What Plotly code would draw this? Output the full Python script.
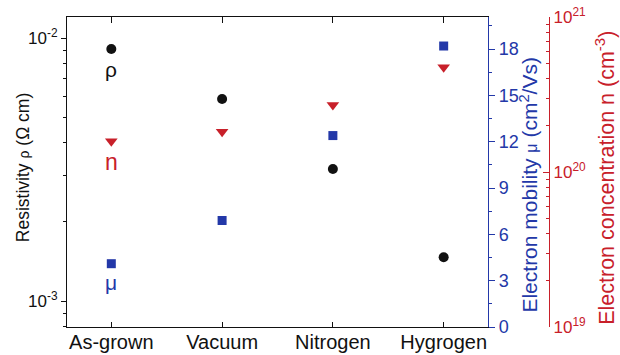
import numpy as np
import plotly.graph_objects as go

categories = ["As-grown", "Vacuum", "Nitrogen", "Hygrogen"]
resistivity = [0.00908, 0.00587, 0.00318, 0.00147]      # Ω cm
mobility = [4.1, 6.9, 12.4, 18.2]                        # cm²/Vs
concentration = [1.58e20, 1.82e20, 2.71e20, 4.74e20]    # cm^-3

BLACK = "#111111"
BLUE = "#2338a8"
RED = "#c8202a"
FONT = "Liberation Sans, Arial, sans-serif"

fig = go.Figure()
fig.add_trace(go.Scatter(x=categories, y=resistivity, mode="markers", yaxis="y",
                         marker=dict(symbol="circle", size=10, color=BLACK), showlegend=False))
fig.add_trace(go.Scatter(x=categories, y=mobility, mode="markers", yaxis="y2",
                         marker=dict(symbol="square", size=9, color=BLUE), showlegend=False))
fig.add_trace(go.Scatter(x=categories, y=concentration, mode="markers", yaxis="y3",
                         marker=dict(symbol="triangle-down", size=11, color=RED), showlegend=False))
# invisible helper trace so the top (mirror) axis is drawn
fig.add_trace(go.Scatter(x=list(range(len(categories))), y=resistivity, mode="markers",
                         xaxis="x2", yaxis="y", marker=dict(opacity=0), hoverinfo="skip",
                         showlegend=False))

xdom_end = 0.8574
fig.update_layout(
    width=620, height=355,
    margin=dict(l=67, r=62, t=17, b=28, autoexpand=False),
    paper_bgcolor="white", plot_bgcolor="white",
    font=dict(family=FONT, size=17, color=BLACK),
    xaxis=dict(domain=[0, xdom_end], type="category", range=[-0.4, 3.4], automargin=False,
               showline=True, linecolor=BLACK, linewidth=1.2, ticks="inside",
               ticklen=5, tickcolor=BLACK, showgrid=False, zeroline=False,
               ticklabelstandoff=-3,
               tickfont=dict(size=20, color=BLACK)),
    xaxis2=dict(domain=[0, xdom_end], overlaying="x", side="top", anchor="y",
                range=[-0.4, 3.4], tickvals=[0, 1, 2, 3], showticklabels=False,
                automargin=False,
                showline=True, linecolor=BLACK, linewidth=1.2, ticks="inside",
                ticklen=6, tickcolor=BLACK, showgrid=False, zeroline=False),
    yaxis=dict(type="log", range=[-3.098, -1.92], showline=True, linecolor=BLACK,
               linewidth=1.2, ticks="outside", ticklen=5, tickcolor=BLACK, automargin=False,
               tickvals=[1e-3, 1e-2], ticktext=["10<sup>-3</sup>", "10<sup>-2</sup>"],
               minor=dict(ticks="outside", ticklen=3, tickcolor=BLACK,
                          tickvals=[k * 1e-4 for k in range(8, 10)] + [k * 1e-3 for k in range(2, 10)]),
               showgrid=False, zeroline=False, tickfont=dict(size=17, color=BLACK)),
    yaxis2=dict(overlaying="y", side="right", anchor="x", range=[0, 20.08], automargin=False,
                showline=True, linecolor=BLUE, linewidth=1.2, ticks="outside",
                ticklen=6, tickcolor=BLUE, tickvals=[0, 3, 6, 9, 12, 15, 18],
                minor=dict(ticks="outside", ticklen=3, tickcolor=BLUE, dtick=1.5, tick0=0),
                showgrid=False, zeroline=False, tickfont=dict(size=18, color=BLUE)),
    yaxis3=dict(overlaying="y", side="right", anchor="free", position=0.9817,
                type="log", range=[19, 21], showline=True, linecolor=RED, linewidth=1.2,
                ticks="inside", ticklen=6, tickcolor=RED, automargin=False,
                tickvals=[1e19, 1e20, 1e21],
                ticktext=["10<sup>19</sup>", "10<sup>20</sup>", "10<sup>21</sup>"],
                minor=dict(ticks="inside", ticklen=3, tickcolor=RED,
                           tickvals=[k * 1e19 for k in range(2, 10)] + [k * 1e20 for k in range(2, 10)]),
                showgrid=False, zeroline=False, tickfont=dict(size=17, color=RED)),
)

# series labels next to the As-grown points
fig.add_annotation(x=categories[0], y=np.log10(resistivity[0]), xref="x", yref="y",
                   text="ρ", showarrow=False, yshift=-20, font=dict(size=21, color=BLACK))
fig.add_annotation(x=categories[0], y=np.log10(concentration[0]), xref="x", yref="y3",
                   text="n", showarrow=False, yshift=-21, font=dict(size=23, color=RED))
fig.add_annotation(x=categories[0], y=mobility[0], xref="x", yref="y2",
                   text="μ", showarrow=False, yshift=-19, font=dict(size=21, color=BLUE))

# axis titles
fig.add_annotation(x=-0.088, y=0.515, xref="paper", yref="paper", textangle=-90,
                   text="Resistivity <span style='font-size:14px'>ρ</span> (Ω cm)", showarrow=False,
                   font=dict(size=17.5, color=BLACK), xanchor="center", yanchor="middle")
fig.add_annotation(x=0.94, y=0.458, xref="paper", yref="paper", textangle=-90,
                   text="Electron mobility <span style='font-size:16px'>μ</span> (cm<sup>2</sup>/Vs)",
                   showarrow=False,
                   font=dict(size=21, color=BLUE), xanchor="center", yanchor="middle")
fig.add_annotation(x=1.097, y=0.48, xref="paper", yref="paper", textangle=-90,
                   text="Electron concentration n (cm<sup>-3</sup>)", showarrow=False,
                   font=dict(size=21.5, color=RED), xanchor="center", yanchor="middle")

fig.write_html("out.html")
